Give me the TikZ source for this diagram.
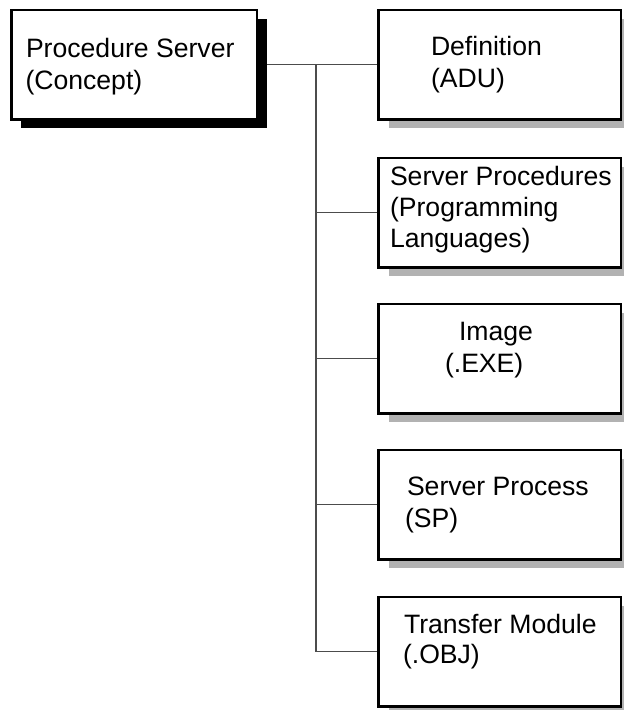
\documentclass[tikz,border=0pt]{standalone}
\usepackage{fontspec}
\setmainfont{Liberation Sans}
\usetikzlibrary{shadows,backgrounds}
\begin{document}
\begin{tikzpicture}[x=1pt,y=-1pt,
  box/.style={draw=black, line width=2.5pt, fill=white, rectangle, inner sep=0pt, outer sep=0pt},
  leftbox/.style={box, minimum width=245.5pt, minimum height=109.5pt,
     general shadow={fill=black, shadow xshift=10pt, shadow yshift=-9pt}},
  rightbox/.style={box, minimum width=242.5pt, minimum height=109.5pt,
     general shadow={fill=black!30, shadow xshift=11pt, shadow yshift=-9pt}},
  txt/.style={anchor=base west, inner sep=0pt, outer sep=0pt, font=\fontsize{26.6}{31}\selectfont},
  conn/.style={draw=black!70, line width=1.2pt}
]
\useasboundingbox (0,0) rectangle (624,710);
\clip (0,0) rectangle (624,710);
% boxes
\node[leftbox] (ps) at (134,64.5) {};
\node[rightbox] (b1) at (499.5,64.5) {};
\node[rightbox] (b2) at (499.5,212.5) {};
\node[rightbox] (b3) at (499.5,358.5) {};
\node[rightbox] (b4) at (499.5,504.5) {};
\node[rightbox] (b5) at (499.5,651.5) {};
% texts
\node[txt] (t0a) at (26,57) {Procedure Server};
\node[txt] (t0b) at (25.5,89) {(Concept)};
\node[txt] (t1a) at (431,55) {Definition};
\node[txt] (t1b) at (431,87) {(ADU)};
\node[txt] (t2a) at (390,185) {Server Procedures};
\node[txt] (t2b) at (390,216) {(Programming};
\node[txt] (t2c) at (390,247) {Languages)};
\node[txt] (t3a) at (459,340) {Image};
\node[txt] (t3b) at (445,372) {(.EXE)};
\node[txt] (t4a) at (407,495) {Server Process};
\node[txt] (t4b) at (405,527) {(SP)};
\node[txt] (t5a) at (404,633) {Transfer Module};
\node[txt] (t5b) at (403,663) {(.OBJ)};
% connectors
\begin{scope}[on background layer]
\coordinate (j) at (316,64.5);
\draw[conn] (ps.east) -- (b1.west);
\draw[conn] (j) |- (b5.west);
\draw[conn] (j |- b2.west) -- (b2.west);
\draw[conn] (j |- b3.west) -- (b3.west);
\draw[conn] (j |- b4.west) -- (b4.west);
\end{scope}
\end{tikzpicture}
\end{document}
